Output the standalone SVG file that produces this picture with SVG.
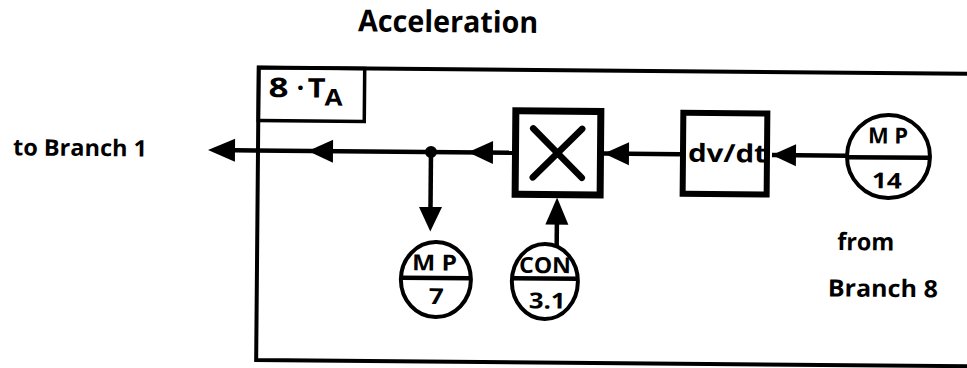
<svg xmlns="http://www.w3.org/2000/svg" width="967" height="368" viewBox="0 0 967 368">
<defs>
<style>
.t{font-family:"Open Sans","Liberation Sans",sans-serif;font-weight:700;fill:#000}
.ln{stroke:#000;fill:none;stroke-width:4.5}
.ah{fill:#000;stroke:none}
.c{fill:#fff;stroke:#000;stroke-width:4}
.dv{stroke:#000;stroke-width:4.5}
</style>
</defs>
<rect width="967" height="368" fill="#fff"/>
<g transform="rotate(0.5 258 150.5)">
<text class="t" x="357" y="30.5" font-size="30" textLength="180" lengthAdjust="spacingAndGlyphs">Acceleration</text>
<text class="t" x="13" y="157.5" font-size="23" textLength="134" lengthAdjust="spacingAndGlyphs">to Branch 1</text>

<g id="frame">
<path d="M 985 67.5 H 258 V 360 H 985" fill="none" stroke="#000" stroke-width="4"/>
<rect x="258" y="67.5" width="106" height="53" fill="none" stroke="#000" stroke-width="3.5"/>
<text class="t" font-size="27"><tspan x="268" y="97" textLength="20" lengthAdjust="spacingAndGlyphs">8</tspan><tspan x="296" y="97">·</tspan><tspan x="307" y="97" textLength="18" lengthAdjust="spacingAndGlyphs">T</tspan><tspan x="324" y="105" font-size="23" textLength="18" lengthAdjust="spacingAndGlyphs">A</tspan></text>
</g>

<g id="connectors">
<line class="ln" x1="214" y1="150.5" x2="512" y2="150.5"/>
<polygon class="ah" points="208,150.5 235,139 235,162"/>
<polygon class="ah" points="308,150.5 333,139 333,162"/>
<polygon class="ah" points="468,150.5 493,139 493,162"/>
<line class="ln" x1="604" y1="150.5" x2="680" y2="150.5"/>
<polygon class="ah" points="604,150.5 629,139 629,162"/>
<line class="ln" x1="772" y1="150.5" x2="847" y2="150.5"/>
<polygon class="ah" points="772,150.5 796,139.5 796,161.5"/>
<circle cx="431" cy="150.5" r="6" fill="#000"/>
<line class="ln" x1="431" y1="150.5" x2="431" y2="210"/>
<polygon class="ah" points="431,230 419.5,205.5 442.5,205.5"/>
<line class="ln" x1="557.5" y1="246" x2="557.5" y2="220"/>
<polygon class="ah" points="557.5,195 546,222 569,222"/>
</g>

<g id="mult">
<rect x="515.5" y="108.5" width="85" height="83.5" fill="#fff" stroke="#000" stroke-width="7"/>
<path d="M 533 126 L 582 175 M 582 126 L 533 175" stroke="#000" stroke-width="6.5" stroke-linecap="round" fill="none"/>
</g>

<g id="dvdt">
<rect x="683" y="109" width="84" height="81" fill="none" stroke="#000" stroke-width="6"/>
<text class="t" x="688" y="158" font-size="25" textLength="79" lengthAdjust="spacingAndGlyphs">dv/dt</text>
</g>

<g id="mp14">
<circle class="c" cx="888.5" cy="151" r="41.5"/>
<line class="dv" x1="847" y1="152" x2="930" y2="152"/>
<text class="t" x="868" y="138" font-size="22" textLength="40" lengthAdjust="spacingAndGlyphs">M P</text>
<text class="t" x="872" y="183" font-size="22" textLength="30" lengthAdjust="spacingAndGlyphs">14</text>
</g>

<g id="mp7">
<ellipse class="c" cx="437" cy="278" rx="35" ry="37.5"/>
<line class="dv" x1="402" y1="276.5" x2="472" y2="276.5"/>
<text class="t" x="413" y="269" font-size="22" textLength="45" lengthAdjust="spacingAndGlyphs">M P</text>
<text class="t" x="430" y="302.5" font-size="22" textLength="15" lengthAdjust="spacingAndGlyphs">7</text>
</g>

<g id="con">
<ellipse class="c" cx="546" cy="279" rx="33" ry="37.5"/>
<line class="dv" x1="513" y1="276" x2="579" y2="276"/>
<text class="t" x="520" y="270.5" font-size="22" textLength="52" lengthAdjust="spacingAndGlyphs">CON</text>
<text class="t" x="530" y="306" font-size="22" textLength="37" lengthAdjust="spacingAndGlyphs">3.1</text>
</g>

<text class="t" x="838" y="245" font-size="24" font-weight="600" textLength="57" lengthAdjust="spacingAndGlyphs">from</text>
<text class="t" x="829" y="291.5" font-size="24" textLength="110" lengthAdjust="spacingAndGlyphs">Branch  8</text>
</g>
</svg>
